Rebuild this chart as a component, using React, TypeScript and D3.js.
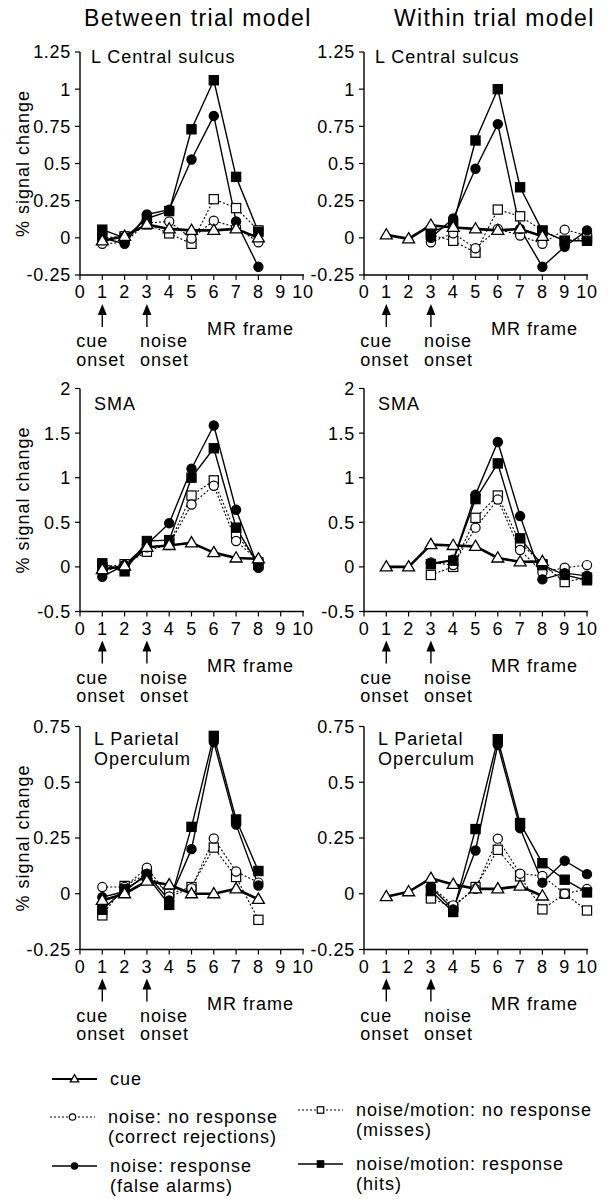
import React from "react";
import * as d3 from "d3";

// ---------- data ----------
const frames = [1, 2, 3, 4, 5, 6, 7, 8, 9, 10];

const colTitles = ["Between trial model", "Within trial model"];
const regionLabels = [["L Central sulcus"], ["SMA"], ["L Parietal", "Operculum"]];

const yDomains: [number, number][] = [[-0.25, 1.25], [-0.5, 2], [-0.25, 0.75]];
const yTickValues = [
  [-0.25, 0, 0.25, 0.5, 0.75, 1, 1.25],
  [-0.5, 0, 0.5, 1, 1.5, 2],
  [-0.25, 0, 0.25, 0.5, 0.75],
];
const xTickValues = [0, 1, 2, 3, 4, 5, 6, 7, 8, 9, 10];

type V = number | null;
// Between trial model, L Central sulcus
const bcCue: V[] = [-0.02, 0.01, 0.09, 0.06, 0.05, 0.05, 0.06, 0.0];
const bcCR: V[] = [-0.04, -0.03, 0.1, 0.11, -0.005, 0.115, 0.07, -0.03];
const bcFA: V[] = [0.0, -0.04, 0.157, 0.19, 0.527, 0.82, 0.11, -0.195];
const bcMiss: V[] = [0.0, 0.01, 0.09, 0.03, -0.04, 0.26, 0.2, 0.05];
const bcHit: V[] = [0.055, 0.0, 0.13, 0.18, 0.73, 1.06, 0.41, 0.04];
// Within trial model, L Central sulcus
const wcCue: V[] = [0.02, -0.007, 0.085, 0.07, 0.06, 0.05, 0.06, 0.01, null, null];
const wcCR: V[] = [null, null, -0.03, 0.03, -0.07, 0.06, 0.015, -0.04, 0.055, 0.015];
const wcFA: V[] = [null, null, 0.0, 0.13, 0.465, 0.765, 0.06, -0.195, -0.06, 0.05];
const wcMiss: V[] = [null, null, 0.02, -0.02, -0.1, 0.19, 0.145, 0.05, -0.02, 0.0];
const wcHit: V[] = [null, null, 0.04, 0.09, 0.655, 1.0, 0.34, 0.045, -0.02, -0.02];
// Between trial model, SMA
const bsCue: V[] = [-0.03, 0.01, 0.22, 0.24, 0.27, 0.16, 0.1, 0.09];
const bsCR: V[] = [-0.05, 0.02, 0.22, 0.25, 0.7, 0.91, 0.29, 0.07];
const bsFA: V[] = [-0.11, 0.02, 0.25, 0.49, 1.1, 1.585, 0.64, -0.01];
const bsMiss: V[] = [0.0, 0.03, 0.17, 0.26, 0.8, 0.97, 0.37, 0.05];
const bsHit: V[] = [0.04, -0.05, 0.29, 0.3, 1.0, 1.33, 0.44, 0.02];
// Within trial model, SMA
const wsCue: V[] = [0, 0, 0.25, 0.24, 0.23, 0.1, 0.056, 0.06, null, null];
const wsCR: V[] = [null, null, 0.05, 0.02, 0.44, 0.755, 0.19, -0.06, -0.01, 0.02];
const wsFA: V[] = [null, null, 0.04, 0.08, 0.81, 1.4, 0.57, -0.14, -0.07, -0.1];
const wsMiss: V[] = [null, null, -0.09, 0.0, 0.55, 0.8, 0.27, 0.03, -0.17, -0.12];
const wsHit: V[] = [null, null, 0.03, 0.07, 0.76, 1.16, 0.32, 0.02, -0.09, -0.15];
// Between trial model, L Parietal Operculum
const bpCue: V[] = [-0.03, 0.0, 0.057, 0.04, 0.0, 0.0, 0.022, -0.025];
const bpCR: V[] = [0.03, 0.03, 0.117, -0.012, 0.025, 0.248, 0.1, 0.05];
const bpFA: V[] = [-0.015, 0.01, 0.09, -0.03, 0.2, 0.68, 0.31, 0.037];
const bpMiss: V[] = [-0.097, 0.035, 0.09, 0.0, 0.03, 0.207, 0.075, -0.117];
const bpHit: V[] = [-0.072, 0.02, 0.08, -0.05, 0.3, 0.708, 0.333, 0.102];
// Within trial model, L Parietal Operculum
const wpCue: V[] = [-0.013, 0.009, 0.069, 0.042, 0.022, 0.022, 0.034, -0.01, null, null];
const wpCR: V[] = [null, null, 0.034, -0.052, 0.022, 0.247, 0.09, 0.08, 0.0, 0.021];
const wpFA: V[] = [null, null, 0.03, -0.07, 0.194, 0.668, 0.294, 0.05, 0.148, 0.088];
const wpMiss: V[] = [null, null, -0.021, -0.06, 0.03, 0.197, 0.078, -0.07, 0.0, -0.075];
const wpHit: V[] = [null, null, 0.012, -0.082, 0.29, 0.693, 0.317, 0.137, 0.063, 0.006];

const legendLabels = [
  ["cue"],
  ["noise: no response", "(correct rejections)"],
  ["noise: response", "(false alarms)"],
  ["noise/motion: no response", "(misses)"],
  ["noise/motion: response", "(hits)"],
];

// ---------- styles ----------
type Kind = "cue" | "cr" | "fa" | "miss" | "hit";
const FONT = "'Liberation Sans', Arial, Helvetica, sans-serif";
const LS = 1; // letter spacing for labels
const TS = 0.7; // letter spacing for ticks

const panels: { row: number; col: number; series: { kind: Kind; values: V[] }[] }[] = [
  { row: 0, col: 0, series: [{ kind: "miss", values: bcMiss }, { kind: "cr", values: bcCR }, { kind: "hit", values: bcHit }, { kind: "fa", values: bcFA }, { kind: "cue", values: bcCue }] },
  { row: 0, col: 1, series: [{ kind: "miss", values: wcMiss }, { kind: "cr", values: wcCR }, { kind: "hit", values: wcHit }, { kind: "fa", values: wcFA }, { kind: "cue", values: wcCue }] },
  { row: 1, col: 0, series: [{ kind: "miss", values: bsMiss }, { kind: "cr", values: bsCR }, { kind: "hit", values: bsHit }, { kind: "fa", values: bsFA }, { kind: "cue", values: bsCue }] },
  { row: 1, col: 1, series: [{ kind: "miss", values: wsMiss }, { kind: "cr", values: wsCR }, { kind: "hit", values: wsHit }, { kind: "fa", values: wsFA }, { kind: "cue", values: wsCue }] },
  { row: 2, col: 0, series: [{ kind: "miss", values: bpMiss }, { kind: "cr", values: bpCR }, { kind: "hit", values: bpHit }, { kind: "fa", values: bpFA }, { kind: "cue", values: bpCue }] },
  { row: 2, col: 1, series: [{ kind: "miss", values: wpMiss }, { kind: "cr", values: wpCR }, { kind: "hit", values: wpHit }, { kind: "fa", values: wpFA }, { kind: "cue", values: wpCue }] },
];

const colX0 = [80, 364];
const rowTop = [52, 388.5, 726.5];
const PW = 223;
const PH = 223;

function lineStyle(kind: Kind) {
  if (kind === "cue") return { strokeWidth: 2.6, dash: undefined as string | undefined };
  if (kind === "cr" || kind === "miss") return { strokeWidth: 1.1, dash: "2,2" };
  return { strokeWidth: 1.4, dash: undefined };
}

function Marker({ kind, x, y, s = 1 }: { kind: Kind; x: number; y: number; s?: number }) {
  if (kind === "cue") {
    const w = 6 * s, h = 10 * s;
    return (
      <path
        d={`M${x},${y - h * 0.62}L${x + w},${y + h * 0.4}L${x - w},${y + h * 0.4}Z`}
        fill="#fff" stroke="#000" strokeWidth={1.3} />
    );
  }
  if (kind === "cr" || kind === "fa") {
    return <circle cx={x} cy={y} r={4.6 * s} fill={kind === "fa" ? "#000" : "#fff"} stroke="#000" strokeWidth={1.2} />;
  }
  const h = 4.6 * s;
  return <rect x={x - h} y={y - h} width={2 * h} height={2 * h} fill={kind === "hit" ? "#000" : "#fff"} stroke="#000" strokeWidth={1.2} />;
}

function MultiLine({ x, y, lines, gap, size }: { x: number; y: number; lines: string[]; gap: number; size: number }) {
  return (
    <text x={x} y={y} fontSize={size} letterSpacing={LS}>
      {lines.map((l, i) => (
        <tspan key={l} x={x} dy={i === 0 ? 0 : gap}>{l}</tspan>
      ))}
    </text>
  );
}

function Panel({ row, col, series }: { row: number; col: number; series: { kind: Kind; values: V[] }[] }) {
  const x0 = colX0[col];
  const top = rowTop[row];
  const x = d3.scaleLinear().domain([0, 10]).range([x0, x0 + PW]);
  const y = d3.scaleLinear().domain(yDomains[row]).range([top + PH, top]);
  const bottom = top + PH;
  const line = d3
    .line<V>()
    .defined((d) => d !== null)
    .x((_, i) => x(frames[i]))
    .y((d) => y(d as number));
  const lab = regionLabels[row];
  const labY0 = row === 0 ? top + 11 : row === 1 ? top + 21 : top + 18;
  const labX = x0 + (row === 0 ? 11 : 14);
  return (
    <g>
      {/* axes */}
      <line x1={x0} x2={x0} y1={top} y2={bottom} stroke="#000" strokeWidth={1.4} />
      <line x1={x0} x2={x0 + PW + 1} y1={bottom} y2={bottom} stroke="#000" strokeWidth={1.4} />
      {yTickValues[row].map((t) => (
        <g key={"y" + t}>
          <line x1={x0 - 5} x2={x0} y1={y(t)} y2={y(t)} stroke="#000" strokeWidth={1.2} />
          <text x={x0 - 9} y={y(t)} dy="0.36em" textAnchor="end" fontSize={18} letterSpacing={TS}>{String(t)}</text>
        </g>
      ))}
      {xTickValues.map((t) => (
        <g key={"x" + t}>
          <line x1={x(t)} x2={x(t)} y1={bottom} y2={bottom + 5} stroke="#000" strokeWidth={1.2} />
          <text x={x(t)} y={bottom + 23} textAnchor="middle" fontSize={18} letterSpacing={TS}>{String(t)}</text>
        </g>
      ))}
      {col === 0 && (
        <text transform={`translate(${29},${top + PH / 2}) rotate(-90)`} textAnchor="middle" fontSize={18} letterSpacing={LS}>% signal change</text>
      )}
      <MultiLine x={labX} y={labY0} lines={lab} gap={20} size={18} />
      {/* lines */}
      {series.map((s) => {
        const st = lineStyle(s.kind);
        return (
          <path key={"l" + s.kind} d={line(s.values) || ""} fill="none" stroke="#000"
            strokeWidth={st.strokeWidth} strokeDasharray={st.dash} strokeLinejoin="round" />
        );
      })}
      {series.map((s) =>
        s.values.map((v, i) =>
          v === null ? null : <Marker key={s.kind + i} kind={s.kind} x={x(frames[i])} y={y(v)} />
        )
      )}
      {/* onset arrows */}
      {[1, 3].map((f) => (
        <g key={"a" + f}>
          <path d={`M${x(f)},${bottom + 29}L${x(f) + 4.5},${bottom + 40}L${x(f) - 4.5},${bottom + 40}Z`} fill="#000" />
          <line x1={x(f)} x2={x(f)} y1={bottom + 38} y2={bottom + 52} stroke="#000" strokeWidth={1.4} />
        </g>
      ))}
      <text x={x(5.7)} y={bottom + 60} fontSize={18} letterSpacing={LS}>MR frame</text>
      <MultiLine x={x(1) - 26} y={bottom + 72} lines={["cue", "onset"]} gap={18.5} size={18} />
      <MultiLine x={x(3) - 7} y={bottom + 72} lines={["noise", "onset"]} gap={18.5} size={18} />
    </g>
  );
}

const legendItems: { kind: Kind; x: number; y: number }[] = [
  { kind: "cue", x: 52, y: 1079 },
  { kind: "cr", x: 50, y: 1117 },
  { kind: "fa", x: 52, y: 1166 },
  { kind: "miss", x: 298, y: 1110 },
  { kind: "hit", x: 298, y: 1164 },
];

export default function App() {
  return (
    <div style={{ position: "absolute", left: 0, top: 0 }}>
      <svg width={610} height={1199} style={{ display: "block", background: "#fff" }} fontFamily={FONT}>
        <rect width={610} height={1199} fill="#fff" />
        <text x={84} y={26} fontSize={23} letterSpacing={1.35}>{colTitles[0]}</text>
        <text x={394} y={26} fontSize={23} letterSpacing={1.35}>{colTitles[1]}</text>
        {panels.map((p) => (
          <Panel key={p.row + "-" + p.col} {...p} />
        ))}
        {legendItems.map((it, i) => {
          const st = lineStyle(it.kind);
          const len = 45;
          return (
            <g key={"lg" + i}>
              <line x1={it.x} x2={it.x + len} y1={it.y} y2={it.y} stroke="#000"
                strokeWidth={it.kind === "cue" ? 1.8 : st.strokeWidth} strokeDasharray={st.dash} />
              <Marker kind={it.kind} x={it.x + len / 2} y={it.y} s={0.7} />
              <MultiLine x={it.x + 58} y={it.y + 6} lines={legendLabels[i]} gap={20} size={18} />
            </g>
          );
        })}
      </svg>
    </div>
  );
}
